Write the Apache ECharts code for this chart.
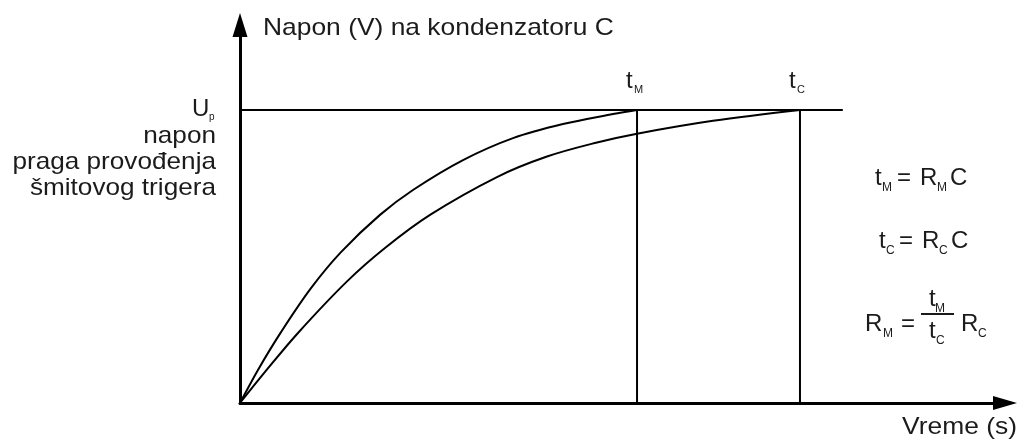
<!DOCTYPE html>
<html>
<head>
<meta charset="utf-8">
<script src="https://cdn.jsdelivr.net/npm/echarts@6/dist/echarts.min.js"></script>
<style>
html, body { margin: 0; padding: 0; background: #fff; }
#chart { width: 1018px; height: 443px; }
</style>
</head>
<body>
<div id="chart"></div>
<script>
// threshold voltage Up = 1, times in arbitrary units
const UP = 1;
const tM = 51.9;
const tC = 73.2;
const upEnd = 78.8;

// capacitor voltage, smaller resistor (reaches Up at tM)
const fastT = [0, 2.35, 5.36, 9.28, 13.2, 18.3, 22.61, 29.15, 35.69, 42.22, 48.76, 51.9];
const fastV = [0, 0.113, 0.242, 0.392, 0.515, 0.642, 0.727, 0.829, 0.904, 0.952, 0.986, 1.0];
// capacitor voltage, larger resistor (reaches Up at tC)
const slowT = [0, 3.27, 7.58, 13.99, 18.95, 24.84, 33.59, 40.13, 46.67, 51.9, 61.83, 73.2];
const slowV = [0, 0.106, 0.239, 0.415, 0.529, 0.642, 0.771, 0.841, 0.889, 0.919, 0.963, 1.0];

const marks = [
    { x: tM, main: 't', sub: 'M' },
    { x: tC, main: 't', sub: 'C' }
];

const ink = '#1c1a1b';
const FONT = '"Liberation Sans", Arial, sans-serif';

function pairs(xs, ys) {
    return xs.map((x, i) => [x, ys[i]]);
}

// text placed by its baseline
function txt(x, base, s, size, align, sx) {
    return {
        type: 'text',
        x: x,
        y: base - 0.3465 * size,
        scaleX: sx || 1,
        silent: true,
        style: {
            text: s,
            font: size + 'px ' + FONT,
            fill: ink,
            align: align || 'left',
            verticalAlign: 'middle',
            textAlign: align || 'left',
            textVerticalAlign: 'middle'
        }
    };
}

const chart = echarts.init(document.getElementById('chart'));

const lineStyle = { color: '#000', width: 2 };
function plain(data) {
    return {
        type: 'line',
        data: data,
        showSymbol: false,
        symbol: 'none',
        lineStyle: lineStyle,
        silent: true
    };
}

const fast = plain(pairs(fastT, fastV));
fast.smooth = 0.35;
const slow = plain(pairs(slowT, slowV));
slow.smooth = 0.35;

const option = {
    animation: false,
    grid: { left: 240, right: 13, top: 25, bottom: 40 },
    xAxis: {
        type: 'value',
        min: 0,
        max: 100,
        axisLine: {
            lineStyle: { color: '#000', width: 3 },
            symbol: ['none', 'triangle'],
            symbolSize: [14, 24]
        },
        axisTick: { show: false },
        axisLabel: { show: false },
        splitLine: { show: false }
    },
    yAxis: {
        type: 'value',
        min: 0,
        max: 1.29,
        axisLine: {
            show: true,
            lineStyle: { color: '#000', width: 3 },
            symbol: ['none', 'triangle'],
            symbolSize: [15, 24]
        },
        axisTick: { show: false },
        axisLabel: { show: false },
        splitLine: { show: false }
    },
    series: [
        fast,
        slow,
        plain([[0, UP], [upEnd, UP]]),
        plain([[tM, 0], [tM, UP]]),
        plain([[tC, 0], [tC, UP]])
    ]
};
chart.setOption(option);

const g = [
    txt(263, 37, 'Napon (V) na kondenzatoru C', 24, 'left', 1.1),
    txt(1017, 436, 'Vreme (s)', 24, 'right', 1.1),
    // left label of the threshold level
    txt(192, 118, 'U', 24, 'left', 1.0),
    txt(209, 121, 'p', 10, 'left', 1.0),
    txt(216, 145, 'napon', 24, 'right', 1.09),
    txt(216, 171, 'praga provođenja', 24, 'right', 1.09),
    txt(216, 197, 'šmitovog trigera', 24, 'right', 1.09),
    // t_M = R_M C
    txt(875, 187, 't', 24), txt(882, 192, 'M', 12),
    txt(897, 187, '=', 24),
    txt(920, 187, 'R', 24), txt(937, 192, 'M', 12),
    txt(950, 187, 'C', 24),
    // t_C = R_C C
    txt(879, 250, 't', 24), txt(886, 255, 'C', 12),
    txt(899, 250, '=', 24),
    txt(922, 250, 'R', 24), txt(939, 255, 'C', 12),
    txt(951, 250, 'C', 24),
    // R_M = tM/tC R_C
    txt(865, 333, 'R', 24), txt(883, 338, 'M', 12),
    txt(901, 333, '=', 24),
    txt(929, 308, 't', 24), txt(935, 313, 'M', 12),
    {
        type: 'rect', silent: true,
        shape: { x: 921, y: 313, width: 33, height: 2 },
        style: { fill: ink }
    },
    txt(929, 340, 't', 24), txt(936, 345, 'C', 12),
    txt(961, 333, 'R', 24), txt(978, 338, 'C', 12)
];

// t_M, t_C labels above the vertical lines
marks.forEach(m => {
    const p = chart.convertToPixel({ gridIndex: 0 }, [m.x, UP]);
    g.push(txt(p[0] - 11, p[1] - 20, m.main, 24));
    g.push(txt(p[0] - 3, p[1] - 16, m.sub, 11));
});

chart.setOption({ graphic: { elements: g } });
</script>
</body>
</html>
